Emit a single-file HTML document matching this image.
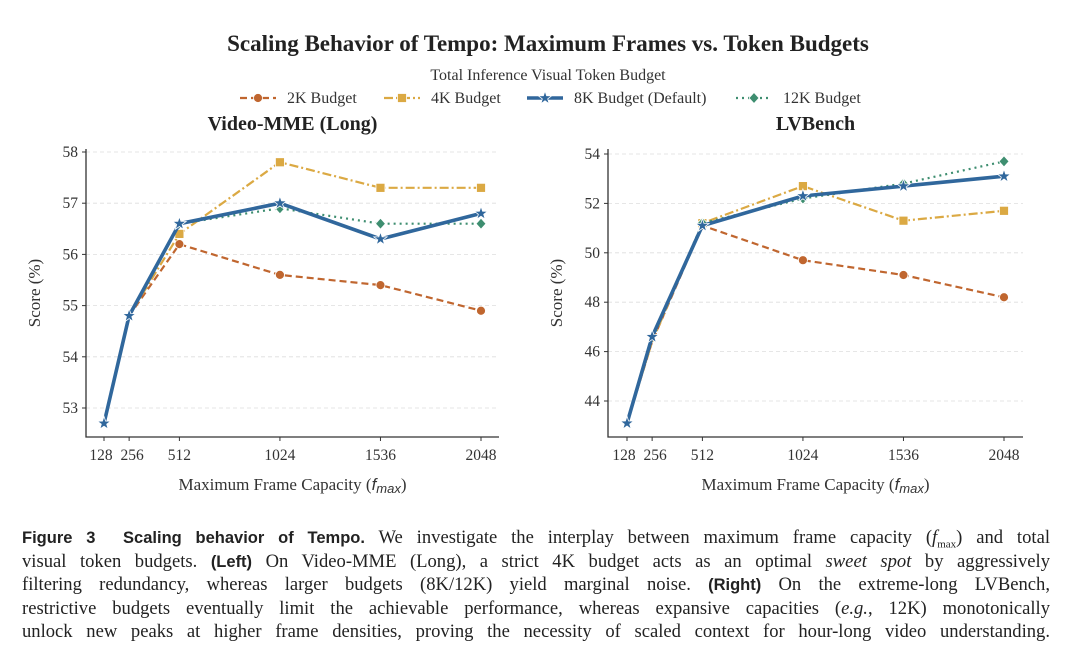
<!DOCTYPE html>
<html><head><meta charset="utf-8"><style>
body{margin:0;background:#fff;width:1080px;height:660px;overflow:hidden;position:relative}
svg{position:absolute;left:0;top:0}
.cap{position:absolute;left:22px;width:1028px;font-family:"Liberation Serif",serif;font-size:18.6px;color:#222;line-height:23.5px;text-align:justify;text-align-last:justify;white-space:nowrap}
.cap b{font-family:"Liberation Sans",sans-serif;font-weight:bold;font-size:16.5px}
</style></head><body>
<svg id="fig" width="1080" height="510" font-family="Liberation Serif, serif"></svg>
<div>
<div class="cap" style="top:526px"><b>Figure 3&nbsp; Scaling behavior of Tempo.</b> We investigate the interplay between maximum frame capacity (<i>f</i><sub style="font-size:11px">max</sub>) and total</div>
<div class="cap" style="top:549.5px">visual token budgets. <b>(Left)</b> On Video-MME (Long), a strict 4K budget acts as an optimal <i>sweet spot</i> by aggressively</div>
<div class="cap" style="top:573px">filtering redundancy, whereas larger budgets (8K/12K) yield marginal noise. <b>(Right)</b> On the extreme-long LVBench,</div>
<div class="cap" style="top:596.5px">restrictive budgets eventually limit the achievable performance, whereas expansive capacities (<i>e.g.</i>, 12K) monotonically</div>
<div class="cap" style="top:620px">unlock new peaks at higher frame densities, proving the necessity of scaled context for hour-long video understanding.</div>
</div>
<script>
const frames=[128,256,512,1024,1536,2048];
const xTicks=[128,256,512,1024,1536,2048];
const leftYTicks=[53,54,55,56,57,58];
const rightYTicks=[44,46,48,50,52,54];
const left2K=[52.7,54.8,56.2,55.6,55.4,54.9];
const left4K=[52.7,54.8,56.4,57.8,57.3,57.3];
const left8K=[52.7,54.8,56.6,57.0,56.3,56.8];
const left12K=[52.7,54.8,56.6,56.9,56.6,56.6];
const right2K=[43.1,46.4,51.1,49.7,49.1,48.2];
const right4K=[43.1,46.4,51.2,52.7,51.3,51.7];
const right8K=[43.1,46.6,51.1,52.3,52.7,53.1];
const right12K=[43.1,46.5,51.2,52.2,52.8,53.7];
const seriesNames=["2K Budget","4K Budget","8K Budget (Default)","12K Budget"];

const NS="http://www.w3.org/2000/svg";
const svg=document.getElementById('fig');
function mk(tag,attrs,parent,text){const e=document.createElementNS(NS,tag);for(const k in attrs)e.setAttribute(k,attrs[k]);if(text!=null)e.textContent=text;(parent||svg).appendChild(e);return e;}
const styles=[
 {c:"#c0662f",w:2.2,d:"7,4",m:"circle"},
 {c:"#dba943",w:2.2,d:"9,3,2,3",m:"square"},
 {c:"#30679c",w:3.6,d:"",m:"star"},
 {c:"#3e8e70",w:2.2,d:"2,4",m:"diamond"}];
function marker(g,m,x,y,c){
 if(m=="circle") return mk("circle",{cx:x,cy:y,r:4.5,fill:c,stroke:"#fff","stroke-width":0.8},g);
 if(m=="square") return mk("rect",{x:x-4.5,y:y-4.5,width:9,height:9,fill:c,stroke:"#fff","stroke-width":0.8},g);
 if(m=="diamond") return mk("path",{d:`M${x},${y-5.5}L${x+5},${y}L${x},${y+5.5}L${x-5},${y}Z`,fill:c,stroke:"#fff","stroke-width":0.8},g);
 let p="";for(let i=0;i<10;i++){const r=i%2?2.8:7,a=-Math.PI/2+i*Math.PI/5;p+=(i?"L":"M")+(x+r*Math.cos(a)).toFixed(1)+","+(y+r*Math.sin(a)).toFixed(1);}
 return mk("path",{d:p+"Z",fill:c,stroke:"#fff","stroke-width":0.8},g);
}
function panel(name,title,ax,yTicks,data,yMin,yMax){
 const g=mk("g",{});
 
 
 const X=v=>ax.x0+(v-128)*(ax.x1-ax.x0)/1920;
 const Y=v=>ax.yb0-(v-yMin)*(ax.yb0-ax.yt)/(yMax-yMin);
 const t=mk("text",{x:(ax.l+ax.r)/2,y:130,"text-anchor":"middle","font-weight":"bold","font-size":20,fill:"#222"},g,title);
 
 yTicks.forEach(v=>{const y=Y(v);
  mk("line",{x1:ax.l,x2:ax.r,y1:y,y2:y,stroke:"#ddd","stroke-dasharray":"4,3","stroke-width":0.8},g);
  mk("line",{x1:ax.l-4,x2:ax.l,y1:y,y2:y,stroke:"#333"},g);
  const tl=mk("text",{x:ax.l-8,y:y+5,"text-anchor":"end","font-size":15.5,fill:"#333"},g,v);
  });
 xTicks.forEach(v=>{const x=X(v);
  mk("line",{x1:x,x2:x,y1:ax.b,y2:ax.b+4,stroke:"#333"},g);
  const tl=mk("text",{x:x+(v==128?-3:v==256?3:0),y:ax.b+23,"text-anchor":"middle","font-size":15.5,fill:"#333"},g,v);
  });
 mk("path",{d:`M${ax.l},${ax.t}V${ax.b}H${ax.r}`,fill:"none",stroke:"#333","stroke-width":1.3},g);
 const yl=mk("text",{transform:`translate(${ax.l-46},${(ax.t+ax.b)/2}) rotate(-90)`,"text-anchor":"middle","font-size":17,fill:"#333"},g,"Score (%)");
 
 const xl=mk("text",{x:(ax.l+ax.r)/2,y:ax.b+53,"text-anchor":"middle","font-size":17,fill:"#333"},g);
 
 xl.appendChild(document.createTextNode("Maximum Frame Capacity ("));
 mk("tspan",{"font-style":"italic","font-family":"Liberation Sans, sans-serif"},xl,"f");
 mk("tspan",{"font-style":"italic","font-family":"Liberation Sans, sans-serif","font-size":13,dy:3},xl,"max");
 mk("tspan",{dy:-3},xl,")");
 [0,1,3,2].forEach(si=>{const s=styles[si],vals=data[si];
  const sg=mk("g",{},g);
  
  
  const pts=frames.map((f,i)=>X(f).toFixed(1)+","+Y(vals[i]).toFixed(1)).join(" ");
  mk("polyline",{points:pts,fill:"none",stroke:s.c,"stroke-width":s.w,"stroke-dasharray":s.d,"stroke-linejoin":"round"},sg);
  frames.forEach((f,i)=>{ if(si!=2 && i<2) return;
   const m=marker(sg,s.m,X(f),Y(vals[i]),s.c);
   });
 });
}
panel("left-chart","Video-MME (Long)",{l:86,r:499,t:149,b:437,x0:104,x1:481,yb0:408,yt:152},leftYTicks,[left2K,left4K,left8K,left12K],53,58);
panel("right-chart","LVBench",{l:608,r:1023,t:149,b:437,x0:627,x1:1004,yb0:401,yt:154},rightYTicks,[right2K,right4K,right8K,right12K],44,54);

const tt=mk("text",{x:548,y:51,"text-anchor":"middle","font-weight":"bold","font-size":23,fill:"#222"},null,"Scaling Behavior of Tempo: Maximum Frames vs. Token Budgets");

const lt=mk("text",{x:548,y:80,"text-anchor":"middle","font-size":16,fill:"#333"},null,"Total Inference Visual Token Budget");

const lx=[240,384,527,736];
seriesNames.forEach((n,i)=>{const s=styles[i];const g=mk("g",{});
 
 mk("line",{x1:lx[i],x2:lx[i]+36,y1:98,y2:98,stroke:s.c,"stroke-width":s.w,"stroke-dasharray":s.d},g);
 marker(g,s.m,lx[i]+18,98,s.c);
 mk("text",{x:lx[i]+47,y:103,"font-size":16,fill:"#333"},g,n);});
</script>
</body></html>
